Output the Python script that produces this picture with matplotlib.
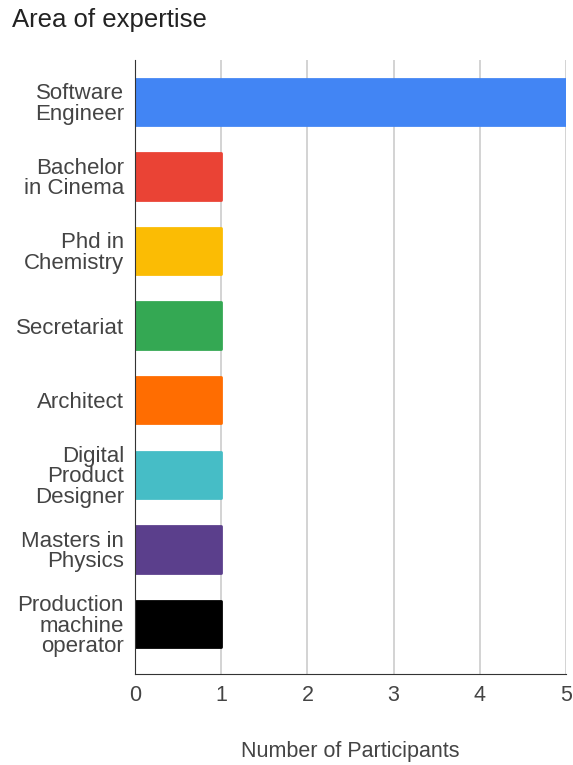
import matplotlib.pyplot as plt

# categories top to bottom and their participant counts
areas = ['Software\nEngineer', 'Bachelor\nin Cinema', 'Phd in\nChemistry', 'Secretariat',
         'Architect', 'Digital\nProduct\nDesigner', 'Masters in\nPhysics',
         'Production\nmachine\noperator']
participants = [5, 1, 1, 1, 1, 1, 1, 1]
colors = ['#4285F4', '#EA4335', '#FBBC04', '#34A853', '#FF6D01', '#46BDC6', '#5B3F8C', '#000000']
xticks = [0, 1, 2, 3, 4, 5]

plt.rcParams['font.family'] = ['Liberation Sans', 'DejaVu Sans']
txt = '#444444'

fig = plt.figure(figsize=(5.73, 7.65), dpi=100)
ax = fig.add_axes([135/573, 1 - 674/765, 431/573, 614/765])

pos = list(range(len(areas)))
ax.barh(pos, participants, height=0.62, color=colors, edgecolor=colors,
        linewidth=2, joinstyle='round', zorder=3)

ax.set_xlim(0, 5)
ax.set_ylim(7.67, -0.56)
ax.set_yticks(pos)
ax.set_yticklabels(areas, fontsize=16, color=txt, linespacing=0.96)
ax.set_xticks(xticks)
ax.set_xticklabels([str(t) for t in xticks], fontsize=15.5, color=txt)
ax.tick_params(axis='y', length=0, pad=8)
ax.tick_params(axis='x', length=0, pad=8)

ax.grid(axis='x', color='#cccccc', linewidth=1.2, zorder=0)
for s in ['top', 'right']:
    ax.spines[s].set_visible(False)
ax.spines['left'].set_color('#333333')
ax.spines['bottom'].set_color('#333333')
ax.spines['left'].set_zorder(4)

ax.set_xlabel('Number of Participants', fontsize=15.5, color=txt, labelpad=25)
fig.text(12/573, 1 - 20/765, 'Area of expertise', fontsize=18.5, color='#222222',
         va='center', ha='left')

fig.savefig('out.png', dpi=100)
